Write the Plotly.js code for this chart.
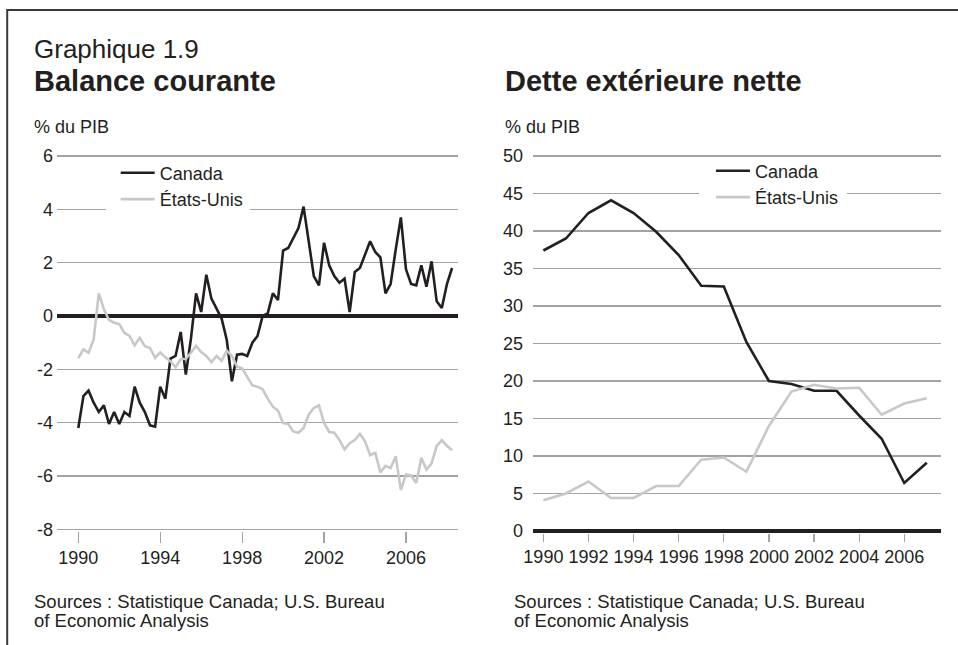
<!DOCTYPE html>
<html>
<head>
<meta charset="utf-8">
<script src="https://cdn.plot.ly/plotly-3.0.1.min.js"></script>
<style>
  html, body { margin: 0; padding: 0; background: #ffffff; }
  #chart { width: 958px; height: 645px; }
</style>
</head>
<body>
<div id="chart"></div>
<script>
// ---- Data: Balance courante (quarterly, % du PIB) ----
const quarterX = [
  1990, 1990.25, 1990.5, 1990.75, 1991, 1991.25, 1991.5, 1991.75,
  1992, 1992.25, 1992.5, 1992.75, 1993, 1993.25, 1993.5, 1993.75,
  1994, 1994.25, 1994.5, 1994.75, 1995, 1995.25, 1995.5, 1995.75,
  1996, 1996.25, 1996.5, 1996.75, 1997, 1997.25, 1997.5, 1997.75,
  1998, 1998.25, 1998.5, 1998.75, 1999, 1999.25, 1999.5, 1999.75,
  2000, 2000.25, 2000.5, 2000.75, 2001, 2001.25, 2001.5, 2001.75,
  2002, 2002.25, 2002.5, 2002.75, 2003, 2003.25, 2003.5, 2003.75,
  2004, 2004.25, 2004.5, 2004.75, 2005, 2005.25, 2005.5, 2005.75,
  2006, 2006.25, 2006.5, 2006.75, 2007, 2007.25, 2007.5, 2007.75,
  2008, 2008.25
];
const canadaBalance = [
  -4.2, -3.0, -2.8, -3.25, -3.6, -3.35, -4.05, -3.6, -4.05, -3.6,
  -3.75, -2.65, -3.25, -3.6, -4.1, -4.15, -2.65, -3.1, -1.6, -1.5,
  -0.6, -2.2, -0.85, 0.85, 0.15, 1.55, 0.65, 0.3, -0.1, -0.9,
  -2.45, -1.45, -1.42, -1.5, -1.0, -0.75, 0.0, 0.1, 0.85, 0.6,
  2.45, 2.55, 2.95, 3.3, 4.1, 2.8, 1.5, 1.15, 2.75, 1.9,
  1.5, 1.25, 1.4, 0.15, 1.65, 1.8, 2.3, 2.8, 2.4, 2.2,
  0.85, 1.2, 2.5, 3.7, 1.75, 1.2, 1.15, 1.9, 1.1, 2.05,
  0.55, 0.3, 1.2, 1.8
];
const usBalance = [
  -1.58, -1.25, -1.38, -0.88, 0.85, 0.25, -0.15, -0.25, -0.3, -0.63,
  -0.75, -1.1, -0.82, -1.13, -1.2, -1.57, -1.36, -1.55, -1.7, -1.92,
  -1.62, -1.6, -1.38, -1.12, -1.35, -1.5, -1.73, -1.5, -1.68, -1.3,
  -1.5, -1.9, -1.96, -2.28, -2.6, -2.65, -2.75, -3.1, -3.4, -3.55,
  -4.02, -4.05, -4.33, -4.38, -4.2, -3.7, -3.45, -3.35, -4.0, -4.35,
  -4.38, -4.65, -5.0, -4.77, -4.65, -4.42, -4.7, -5.22, -5.13, -5.87,
  -5.62, -5.7, -5.26, -6.53, -5.94, -5.98, -6.26, -5.32, -5.76, -5.53,
  -4.87, -4.66, -4.87, -5.03
];
const balanceYTicks = [6, 4, 2, 0, -2, -4, -6, -8];
const balanceYLabels = ["6", "4", "2", "0", "-2", "-4", "-6", "-8"];
const balanceXTicks = [1990, 1994, 1998, 2002, 2006];
const balanceXLabels = ["1990", "1994", "1998", "2002", "2006"];

// ---- Data: Dette extérieure nette (annual, % du PIB) ----
const years = [1990, 1991, 1992, 1993, 1994, 1995, 1996, 1997, 1998,
               1999, 2000, 2001, 2002, 2003, 2004, 2005, 2006, 2007];
const canadaDebt = [37.4, 39.0, 42.4, 44.1, 42.4, 39.9, 36.8, 32.7, 32.6,
                    25.2, 20.0, 19.6, 18.7, 18.7, 15.4, 12.3, 6.4, 9.1];
const usDebt = [4.1, 5.0, 6.6, 4.4, 4.4, 6.0, 6.0, 9.5, 9.8,
                7.9, 14.0, 18.6, 19.5, 19.0, 19.1, 15.5, 17.0, 17.7];
const debtYTicks = [50, 45, 40, 35, 30, 25, 20, 15, 10, 5, 0];
const debtYLabels = ["50", "45", "40", "35", "30", "25", "20", "15", "10", "5", "0"];
const debtXTicks = [1990, 1992, 1994, 1996, 1998, 2000, 2002, 2004, 2006];
const debtXLabels = ["1990", "1992", "1994", "1996", "1998", "2000", "2002", "2004", "2006"];

const seriesNames = ["Canada", "États-Unis"];

// ---- Styling ----
const W = 958, H = 645;
const FONT = "Liberation Sans, Arial, Helvetica, sans-serif";
const TXT = "#231f20";
const DARK = "#231f20";
const LIGHT = "#c8c8c8";
const GRID = "#a3a3a3";
const px = v => v / W;
const py = v => 1 - v / H;

const traces = [
  { x: quarterX, y: canadaBalance, name: seriesNames[0], type: "scatter", mode: "lines",
    line: { color: DARK, width: 2.6 }, xaxis: "x", yaxis: "y", legend: "legend" },
  { x: quarterX, y: usBalance, name: seriesNames[1], type: "scatter", mode: "lines",
    line: { color: LIGHT, width: 2.6 }, xaxis: "x", yaxis: "y", legend: "legend" },
  { x: years, y: canadaDebt, name: seriesNames[0], type: "scatter", mode: "lines",
    line: { color: DARK, width: 2.6 }, xaxis: "x2", yaxis: "y2", legend: "legend2" },
  { x: years, y: usDebt, name: seriesNames[1], type: "scatter", mode: "lines",
    line: { color: LIGHT, width: 2.6 }, xaxis: "x2", yaxis: "y2", legend: "legend2" }
];

const axisFont = { family: FONT, size: 18, color: TXT };

const layout = {
  width: W, height: H,
  margin: { l: 0, r: 0, t: 0, b: 0, pad: 0 },
  paper_bgcolor: "#ffffff",
  plot_bgcolor: "#ffffff",
  font: { family: FONT, size: 18, color: TXT },
  showlegend: true,
  xaxis: {
    domain: [px(57), px(458)],
    range: [1988.96, 2008.54],
    tickmode: "array", tickvals: balanceXTicks, ticktext: balanceXLabels,
    ticks: "outside", ticklen: 11, tickwidth: 1.2, tickcolor: GRID,
    showgrid: false, zeroline: false, showline: false,
    tickfont: axisFont, tickangle: 0, anchor: "y"
  },
  yaxis: {
    domain: [py(530.67), py(154.67)],
    range: [-8.05, 6.05],
    tickmode: "array", tickvals: balanceYTicks, ticktext: balanceYLabels,
    ticks: "", showgrid: true, gridcolor: GRID, gridwidth: 1.2,
    zeroline: true, zerolinecolor: DARK, zerolinewidth: 3.6,
    showline: false, tickfont: axisFont, ticklabelstandoff: 3, anchor: "x"
  },
  xaxis2: {
    domain: [px(533), px(941)],
    range: [1989.54, 2007.63],
    tickmode: "array", tickvals: debtXTicks, ticktext: debtXLabels,
    ticks: "outside", ticklen: 8, tickwidth: 1.2, tickcolor: GRID,
    showgrid: false, zeroline: false, showline: false,
    tickfont: axisFont, tickangle: 0, anchor: "y2"
  },
  yaxis2: {
    domain: [py(532.5), py(154.5)],
    range: [-0.2, 50.2],
    tickmode: "array", tickvals: debtYTicks, ticktext: debtYLabels,
    ticks: "", showgrid: true, gridcolor: GRID, gridwidth: 1.2,
    zeroline: true, zerolinecolor: DARK, zerolinewidth: 4,
    showline: false, tickfont: axisFont, ticklabelstandoff: 9, anchor: "x2"
  },
  legend: {
    x: px(115.7), y: py(154.5), xanchor: "left", yanchor: "top",
    bgcolor: "rgba(0,0,0,0)", borderwidth: 0, itemwidth: 34,
    font: { family: FONT, size: 18, color: TXT }, tracegroupgap: 0
  },
  legend2: {
    x: px(711), y: py(152.5), xanchor: "left", yanchor: "top",
    bgcolor: "rgba(0,0,0,0)", borderwidth: 0, itemwidth: 34,
    font: { family: FONT, size: 18, color: TXT }, tracegroupgap: 0
  },
  shapes: [
    // outer frame
    { type: "rect", xref: "paper", yref: "paper", layer: "above",
      x0: px(7.2), x1: 1.2, y0: -0.2, y1: py(10),
      line: { color: "#3a3a3a", width: 2 }, fillcolor: "rgba(0,0,0,0)" },
    // gridline breaks behind legends
    { type: "rect", xref: "x", yref: "y", layer: "between",
      x0: 1991.35, x1: 1998.38, y0: 3.7, y1: 4.3,
      line: { width: 0 }, fillcolor: "#ffffff" },
    { type: "rect", xref: "x2", yref: "y2", layer: "between",
      x0: 1996.9, x1: 2003.46, y0: 44.3, y1: 45.7,
      line: { width: 0 }, fillcolor: "#ffffff" }
  ],
  annotations: [
    { text: "Graphique 1.9", xref: "paper", yref: "paper", x: px(32), y: py(49.3),
      xanchor: "left", yanchor: "middle", showarrow: false,
      font: { family: FONT, size: 26, color: TXT } },
    { text: "<b>Balance courante</b>", xref: "paper", yref: "paper", x: px(32), y: py(81),
      xanchor: "left", yanchor: "middle", showarrow: false,
      font: { family: FONT, size: 29, color: TXT } },
    { text: "<b>Dette extérieure nette</b>", xref: "paper", yref: "paper", x: px(503), y: py(81),
      xanchor: "left", yanchor: "middle", showarrow: false,
      font: { family: FONT, size: 29, color: TXT } },
    { text: "% du PIB", xref: "paper", yref: "paper", x: px(32), y: py(127),
      xanchor: "left", yanchor: "middle", showarrow: false,
      font: { family: FONT, size: 18, color: TXT } },
    { text: "% du PIB", xref: "paper", yref: "paper", x: px(503), y: py(127),
      xanchor: "left", yanchor: "middle", showarrow: false,
      font: { family: FONT, size: 18, color: TXT } },
    { text: "Sources : Statistique Canada; U.S. Bureau", xref: "paper", yref: "paper", x: px(32), y: py(601.8),
      xanchor: "left", yanchor: "middle", showarrow: false,
      font: { family: FONT, size: 18.5, color: TXT } },
    { text: "of Economic Analysis", xref: "paper", yref: "paper", x: px(32), y: py(620.8),
      xanchor: "left", yanchor: "middle", showarrow: false,
      font: { family: FONT, size: 18.5, color: TXT } },
    { text: "Sources : Statistique Canada; U.S. Bureau", xref: "paper", yref: "paper", x: px(511.5), y: py(601.8),
      xanchor: "left", yanchor: "middle", showarrow: false,
      font: { family: FONT, size: 18.5, color: TXT } },
    { text: "of Economic Analysis", xref: "paper", yref: "paper", x: px(511.5), y: py(620.8),
      xanchor: "left", yanchor: "middle", showarrow: false,
      font: { family: FONT, size: 18.5, color: TXT } }
  ]
};

Plotly.newPlot("chart", traces, layout, { staticPlot: true, displayModeBar: false });
</script>
</body>
</html>
